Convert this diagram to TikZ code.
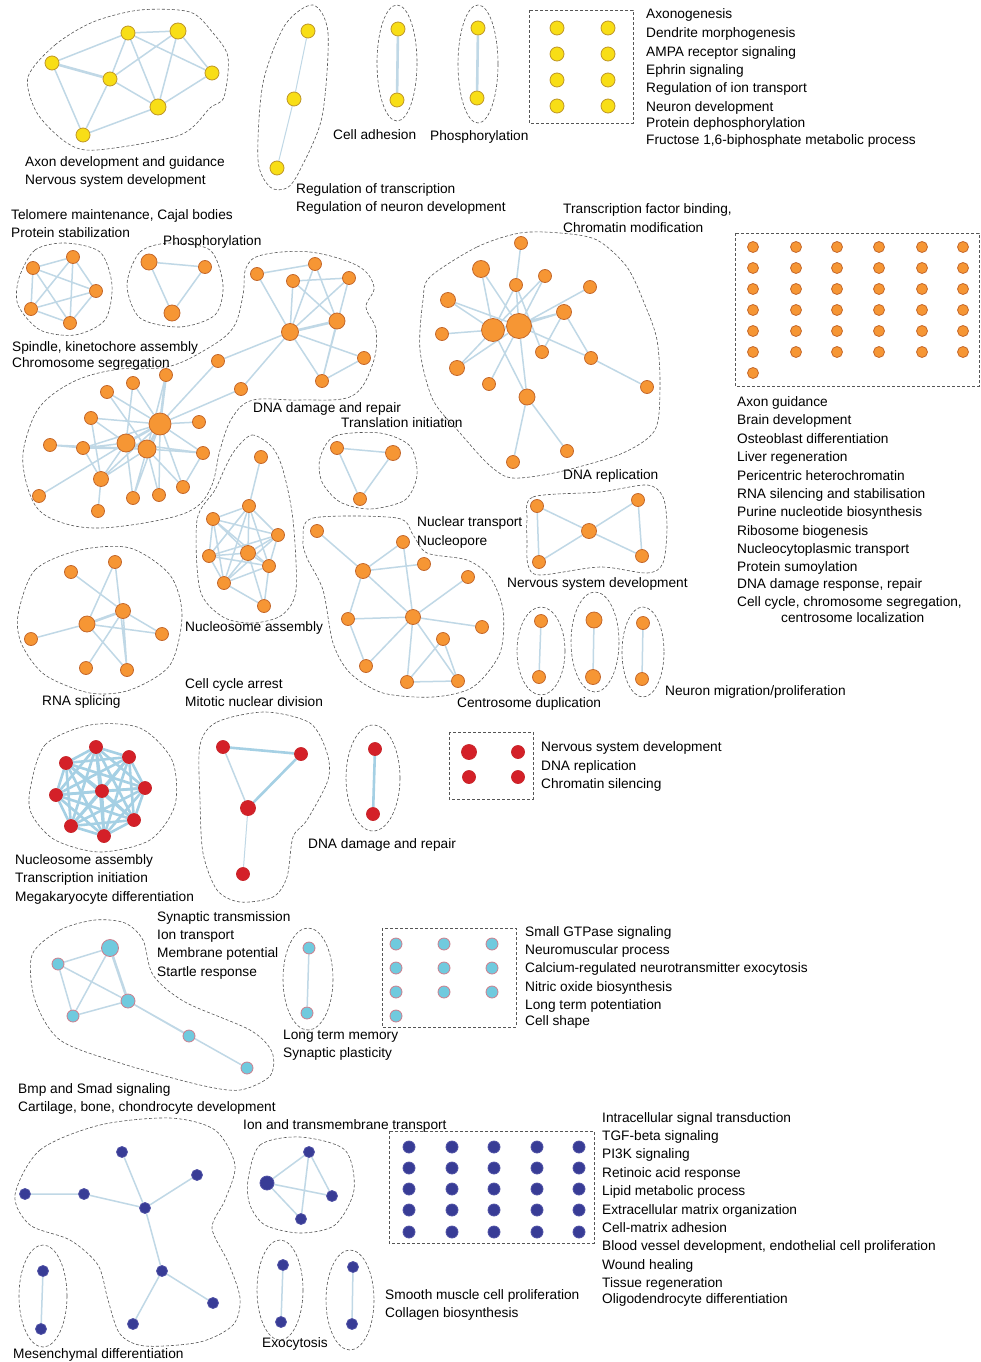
\documentclass[tikz,border=0pt]{standalone}
\usepackage{fontspec}
\setmainfont{Liberation Sans}
\usetikzlibrary{backgrounds}
\definecolor{yfill}{RGB}{248,222,22}
\definecolor{ydraw}{RGB}{190,150,40}
\definecolor{ofill}{RGB}{246,150,52}
\definecolor{odraw}{RGB}{196,104,44}
\definecolor{rfill}{RGB}{212,32,40}
\definecolor{rdraw}{RGB}{200,40,45}
\definecolor{cfill}{RGB}{112,202,222}
\definecolor{cdraw}{RGB}{205,125,140}
\definecolor{bfill}{RGB}{56,60,150}
\definecolor{bdraw}{RGB}{80,82,165}
\definecolor{edgec}{RGB}{192,216,230}
\definecolor{edgeR}{RGB}{165,208,228}
\definecolor{hullc}{RGB}{85,85,85}
\tikzset{
  nd/.style={circle, inner sep=0pt, minimum size=13pt, line width=0.8pt},
  yel/.style={nd, fill=yfill, draw=ydraw, minimum size=14pt},
  org/.style={nd, fill=ofill, draw=odraw},
  rd/.style={nd, fill=rfill, draw=rdraw},
  cy/.style={nd, fill=cfill, draw=cdraw, minimum size=12pt},
  bl/.style={nd, fill=bfill, draw=bdraw, minimum size=11pt},
  ed/.style={draw=edgec, line width=1.5pt},
  edt/.style={draw=edgec, line width=2.6pt},
  edn/.style={draw=edgec, line width=1pt},
  edr/.style={draw=edgeR, line width=2.6pt},
  hull/.style={draw=hullc, line width=0.6pt, dash pattern=on 3pt off 2pt},
  lbl/.style={anchor=base west, inner sep=0pt, yshift=-4.8pt, font=\fontsize{13.7}{16}\selectfont}
}
\newcommand{\lab}[4]{\node[lbl] (#1) at (#2,#3) {#4};}
\begin{document}
\begin{tikzpicture}[x=1pt,y=-1pt]
\useasboundingbox (0,0) rectangle (981,1362);
\begin{scope}[on background layer]
\fill[white] (0,0) rectangle (981,1362);
\end{scope}

% ================= YELLOW =================
\node[yel] (ya) at (52,63) {};
\node[yel] (yb) at (128,33) {};
\node[yel, minimum size=16pt] (yc) at (178,31) {};
\node[yel] (yd) at (212,73) {};
\node[yel] (ye) at (110,79) {};
\node[yel, minimum size=16pt] (yf) at (158,107) {};
\node[yel] (yg) at (83,135) {};
\node[yel] (y2a) at (308,31) {};
\node[yel] (y2b) at (294,99) {};
\node[yel] (y2c) at (277,168) {};
\node[yel] (y3a) at (398,29) {};
\node[yel] (y3b) at (397,100) {};
\node[yel] (y4a) at (478,28) {};
\node[yel] (y4b) at (477,98) {};
\foreach \i/\yy in {1/28,2/54,3/80,4/106}{
  \node[yel] (yb\i a) at (557,\yy) {};
  \node[yel] (yb\i b) at (608,\yy) {};
}
\begin{scope}[on background layer]
\draw[ed] (ya)--(yb) (ya)--(yg) (yb)--(yc) (yb)--(ye) (yb)--(yf) (yb)--(yd)
  (yc)--(ye) (yc)--(yf) (yc)--(yd) (ye)--(yf) (ye)--(yg) (yf)--(yd) (yf)--(yg);
\draw[edt] (ya)--(ye);
\draw[edn] (y2a)--(y2b) (y2b)--(y2c);
\draw[edt] (y3a)--(y3b) (y4a)--(y4b);
\draw[hull] plot[smooth cycle] coordinates {(28,77) (55,45) (93,22) (140,10) (190,12) (213,33) (228,57) (224,97) (210,108) (180,135) (97,150) (67,143) (37,113)};
\draw[hull] plot[smooth cycle] coordinates {(313,5) (328,33) (322,117) (300,170) (287,188) (270,187) (258,160) (263,83) (285,25)};
\draw[hull] (397,63) ellipse [x radius=20, y radius=58];
\draw[hull] (478,64) ellipse [x radius=20, y radius=59];
\draw[hull] (529,10) rectangle (633,123);
\end{scope}
\lab{t1}{25}{162}{Axon development and guidance}
\lab{t2}{25}{180}{Nervous system development}
\lab{t3}{296}{189}{Regulation of transcription}
\lab{t4}{296}{207}{Regulation of neuron development}
\lab{t5}{333}{135}{Cell adhesion}
\lab{t6}{430}{136}{Phosphorylation}
\lab{t7}{646}{14}{Axonogenesis}
\lab{t8}{646}{33}{Dendrite morphogenesis}
\lab{t9}{646}{52}{AMPA receptor signaling}
\lab{t10}{646}{70}{Ephrin signaling}
\lab{t11}{646}{88}{Regulation of ion transport}
\lab{t12}{646}{107}{Neuron development}
\lab{t13}{646}{123}{Protein dephosphorylation}
\lab{t14}{646}{140}{Fructose 1,6-biphosphate metabolic process}

% ================= ORANGE =================
\node[org] (ta) at (33,268) {};
\node[org] (tb) at (73,257) {};
\node[org] (tc) at (96,291) {};
\node[org] (td) at (31,309) {};
\node[org] (te) at (70,323) {};
\node[org, minimum size=16pt] (pa) at (149,262) {};
\node[org] (pb) at (205,267) {};
\node[org, minimum size=16pt] (pc) at (172,313) {};
\node[org] (da) at (257,274) {};
\node[org] (db) at (315,264) {};
\node[org] (dc) at (293,281) {};
\node[org] (dd) at (349,278) {};
\node[org, minimum size=16pt] (de) at (337,321) {};
\node[org, minimum size=17pt] (df) at (290,332) {};
\node[org] (dg) at (364,358) {};
\node[org] (dh) at (322,381) {};
\node[org] (s1) at (218,361) {};
\node[org] (s2) at (241,389) {};
\node[org] (s3) at (166,375) {};
\node[org] (s4) at (133,383) {};
\node[org] (s5) at (107,392) {};
\node[org, minimum size=22pt] (s6) at (160,424) {};
\node[org] (s7) at (91,418) {};
\node[org] (s8) at (199,422) {};
\node[org] (s9) at (50,445) {};
\node[org] (s10) at (83,448) {};
\node[org, minimum size=18pt] (s11) at (126,443) {};
\node[org, minimum size=18pt] (s12) at (147,449) {};
\node[org] (s13) at (203,453) {};
\node[org, minimum size=15pt] (s14) at (101,479) {};
\node[org] (s15) at (183,487) {};
\node[org] (s16) at (39,496) {};
\node[org] (s17) at (133,498) {};
\node[org] (s18) at (159,495) {};
\node[org] (s19) at (98,511) {};
\node[org] (f1) at (521,243) {};
\node[org, minimum size=17pt] (f2) at (481,269) {};
\node[org] (f3) at (545,276) {};
\node[org] (f4) at (516,285) {};
\node[org] (f5) at (590,287) {};
\node[org, minimum size=15pt] (f6) at (448,300) {};
\node[org, minimum size=15pt] (f7) at (564,312) {};
\node[org] (f8) at (442,334) {};
\node[org, minimum size=23pt] (f9) at (493,330) {};
\node[org, minimum size=25pt] (f10) at (519,326) {};
\node[org] (f11) at (542,352) {};
\node[org] (f12) at (591,358) {};
\node[org, minimum size=15pt] (f13) at (457,368) {};
\node[org] (f14) at (489,384) {};
\node[org, minimum size=16pt] (f15) at (527,397) {};
\node[org] (f16) at (647,387) {};
\node[org] (f17) at (567,451) {};
\node[org] (f18) at (513,462) {};
\foreach \c/\xx in {1/753,2/796,3/837,4/879,5/922,6/963}{
  \foreach \r/\yy in {1/247,2/268,3/289,4/310,5/331,6/352}{
    \node[org, minimum size=11pt] (og\r-\c) at (\xx,\yy) {};
  }
}
\node[org, minimum size=11pt] (og7-1) at (753,373) {};
\node[org] (n1) at (261,457) {};
\node[org] (n2) at (249,506) {};
\node[org] (n3) at (213,519) {};
\node[org] (n4) at (278,535) {};
\node[org] (n5) at (209,556) {};
\node[org, minimum size=15pt] (n6) at (248,553) {};
\node[org] (n7) at (269,566) {};
\node[org] (n8) at (224,583) {};
\node[org] (n9) at (264,606) {};
\node[org] (ti1) at (337,448) {};
\node[org, minimum size=15pt] (ti2) at (393,453) {};
\node[org] (ti3) at (360,499) {};
\node[org] (dr1) at (537,506) {};
\node[org] (dr2) at (638,500) {};
\node[org, minimum size=15pt] (dr3) at (589,531) {};
\node[org] (dr4) at (539,562) {};
\node[org] (dr5) at (642,556) {};
\node[org] (nt1) at (317,531) {};
\node[org] (nt2) at (403,542) {};
\node[org, minimum size=15pt] (nt3) at (363,571) {};
\node[org] (nt4) at (424,564) {};
\node[org] (nt5) at (468,577) {};
\node[org] (nt6) at (348,619) {};
\node[org, minimum size=15pt] (nt7) at (413,617) {};
\node[org] (nt8) at (482,627) {};
\node[org] (nt9) at (443,639) {};
\node[org] (nt10) at (366,666) {};
\node[org] (nt11) at (407,682) {};
\node[org] (nt12) at (458,681) {};
\node[org] (c1a) at (541,621) {};
\node[org] (c1b) at (539,677) {};
\node[org, minimum size=16pt] (c2a) at (594,620) {};
\node[org, minimum size=15pt] (c2b) at (593,677) {};
\node[org] (c3a) at (643,623) {};
\node[org] (c3b) at (642,679) {};
\node[org] (r1) at (115,562) {};
\node[org] (r2) at (71,572) {};
\node[org, minimum size=15pt] (r3) at (123,611) {};
\node[org, minimum size=16pt] (r4) at (87,624) {};
\node[org] (r5) at (31,639) {};
\node[org] (r6) at (162,634) {};
\node[org] (r7) at (86,668) {};
\node[org] (r8) at (127,670) {};

\begin{scope}[on background layer]
\draw[ed] (ta)--(tb) (ta)--(td) (ta)--(te) (ta)--(tc) (tb)--(td) (tb)--(te) (tb)--(tc) (td)--(tc) (td)--(te) (tc)--(te);
\draw[ed] (pa)--(pb) (pa)--(pc) (pb)--(pc);
\draw[ed] (da)--(db) (da)--(df) (db)--(df) (db)--(de) (dc)--(dd) (dc)--(de) (dc)--(df) (dd)--(df) (dd)--(dh)
  (de)--(dh) (df)--(dg) (df)--(dh) (dg)--(dh) (df)--(s1) (df)--(s2);
\draw[edt] (de)--(df);
\draw[ed] (s6)--(s4) (s6)--(s5) (s6)--(s8) (s6)--(s1) (s6)--(s2) (s6)--(s7) (s6)--(s10) (s6)--(s13)
  (s6)--(s15) (s6)--(s17) (s6)--(s18) (s6)--(s14) (s11)--(s4) (s11)--(s7) (s11)--(s10) (s11)--(s13)
  (s11)--(s14) (s11)--(s16) (s9)--(s10) (s9)--(s12) (s12)--(s5) (s12)--(s10) (s12)--(s13) (s12)--(s14)
  (s12)--(s15) (s12)--(s17) (s12)--(s18) (s12)--(s3) (s14)--(s10) (s14)--(s19) (s13)--(s15) (s11)--(s17) (s7)--(s14);
\draw[edt] (s6)--(s3) (s6)--(s11) (s6)--(s12) (s11)--(s12);
\draw[ed] (f1)--(f4) (f2)--(f9) (f2)--(f10) (f6)--(f9) (f6)--(f10) (f8)--(f9) (f3)--(f9) (f3)--(f10)
  (f4)--(f9) (f4)--(f10) (f4)--(f11) (f5)--(f10) (f7)--(f9) (f7)--(f10) (f7)--(f12) (f7)--(f11)
  (f10)--(f12) (f12)--(f16) (f10)--(f13) (f9)--(f13) (f10)--(f14) (f9)--(f15) (f10)--(f15)
  (f15)--(f17) (f15)--(f18);
\draw[edt] (f9)--(f10);
\draw[ed] (n1)--(n2);
\foreach \a/\b in {n2/n3,n2/n4,n2/n5,n2/n6,n2/n7,n2/n8,n3/n4,n3/n5,n3/n6,n3/n7,n3/n8,n4/n5,n4/n6,n4/n7,n4/n8,n5/n6,n5/n7,n5/n8,n6/n7,n6/n8,n6/n9,n7/n8,n7/n9,n8/n9}{\draw[ed] (\a)--(\b);}
\draw[ed] (ti1)--(ti2) (ti1)--(ti3) (ti2)--(ti3);
\draw[ed] (dr1)--(dr3) (dr1)--(dr4) (dr3)--(dr2) (dr3)--(dr4) (dr3)--(dr5) (dr2)--(dr5);
\draw[ed] (nt1)--(nt3) (nt2)--(nt3) (nt3)--(nt4) (nt3)--(nt6) (nt3)--(nt7) (nt2)--(nt7) (nt5)--(nt7)
  (nt7)--(nt8) (nt6)--(nt7) (nt6)--(nt10) (nt7)--(nt10) (nt7)--(nt11) (nt7)--(nt12) (nt9)--(nt11)
  (nt9)--(nt12) (nt11)--(nt12);
\draw[ed] (c1a)--(c1b) (c2a)--(c2b) (c3a)--(c3b);
\draw[ed] (r1)--(r4) (r1)--(r8) (r2)--(r3) (r4)--(r5) (r4)--(r6) (r3)--(r6) (r3)--(r8) (r4)--(r8) (r3)--(r7);
\draw[edt] (r3)--(r4);
\draw[hull] plot[smooth cycle] coordinates {(19,278) (35,250) (65,243) (100,252) (112,285) (105,320) (75,335) (40,330) (18,305)};
\draw[hull] plot[smooth cycle] coordinates {(127,285) (140,252) (170,243) (210,250) (223,285) (215,315) (180,327) (140,318)};
\draw[hull] plot[smooth cycle, tension=0.6] coordinates {(23,465) (28,432) (43,403) (77,380) (120,369) (167,367) (205,350) (233,328) (243,295) (246,268) (262,255) (310,252) (358,266) (374,287) (366,307) (376,330) (373,363) (352,396) (300,400) (253,400) (232,418) (220,450) (212,485) (195,508) (160,520) (100,528) (60,522) (35,505)};
\draw[hull] plot[smooth cycle] coordinates {(430,277) (477,247) (520,233) (560,233) (597,240) (627,267) (645,305) (657,340) (660,387) (655,430) (623,453) (567,470) (530,477) (507,477) (487,463) (460,433) (433,400) (420,350) (423,300)};
\draw[hull] (735,233) rectangle (979,386);
\draw[hull] plot[smooth cycle] coordinates {(235,450) (252,435) (272,447) (283,470) (293,520) (296,590) (282,615) (253,623) (223,617) (200,590) (197,520) (215,490) (225,468)};
\draw[hull] plot[smooth cycle] coordinates {(320,458) (335,436) (380,433) (410,446) (417,475) (405,500) (370,509) (340,502) (322,482)};
\draw[hull] plot[smooth cycle] coordinates {(527,520) (533,497) (600,492) (647,485) (663,497) (667,527) (663,563) (647,573) (600,567) (540,575) (528,565) (527,540)};
\draw[hull] plot[smooth cycle] coordinates {(303,540) (313,518) (397,518) (413,535) (427,553) (467,560) (490,577) (503,610) (500,653) (473,687) (433,697) (383,693) (350,673) (333,643) (323,590) (307,558)};
\draw[hull] (541,651) ellipse [x radius=24, y radius=44];
\draw[hull] (595,642) ellipse [x radius=24, y radius=50];
\draw[hull] (643,652) ellipse [x radius=21, y radius=45];
\draw[hull] plot[smooth cycle] coordinates {(18,615) (35,570) (80,550) (130,548) (170,575) (182,615) (170,665) (130,690) (90,693) (45,675) (22,645)};
\end{scope}
\lab{o1}{11}{215}{Telomere maintenance, Cajal bodies}
\lab{o2}{11}{233}{Protein stabilization}
\lab{o3}{163}{241}{Phosphorylation}
\lab{o4}{12}{347}{Spindle, kinetochore assembly}
\lab{o5}{12}{363}{Chromosome segregation}
\lab{o6}{253}{408}{DNA damage and repair}
\lab{o7}{341}{423}{Translation initiation}
\lab{o8}{563}{209}{Transcription factor binding,}
\lab{o9}{563}{228}{Chromatin modification}
\lab{o10}{563}{475}{DNA replication}
\lab{o11}{417}{522}{Nuclear transport}
\lab{o12}{417}{541}{Nucleopore}
\lab{o13}{507}{583}{Nervous system development}
\lab{o14}{185}{627}{Nucleosome assembly}
\lab{o15}{185}{684}{Cell cycle arrest}
\lab{o16}{185}{702}{Mitotic nuclear division}
\lab{o17}{42}{701}{RNA splicing}
\lab{o18}{457}{703}{Centrosome duplication}
\lab{o19}{665}{691}{Neuron migration/proliferation}
\lab{g1}{737}{402}{Axon guidance}
\lab{g2}{737}{420}{Brain development}
\lab{g3}{737}{439}{Osteoblast differentiation}
\lab{g4}{737}{457}{Liver regeneration}
\lab{g5}{737}{476}{Pericentric heterochromatin}
\lab{g6}{737}{494}{RNA silencing and stabilisation}
\lab{g7}{737}{512}{Purine nucleotide biosynthesis}
\lab{g8}{737}{531}{Ribosome biogenesis}
\lab{g9}{737}{549}{Nucleocytoplasmic transport}
\lab{g10}{737}{567}{Protein sumoylation}
\lab{g11}{737}{584}{DNA damage response, repair}
\lab{g12}{737}{602}{Cell cycle, chromosome segregation,}
\lab{g13}{781}{618}{centrosome localization}

% ================= RED =================
\node[rd] (R1) at (96,747) {};
\node[rd] (R2) at (66,763) {};
\node[rd] (R3) at (129,757) {};
\node[rd] (R4) at (56,795) {};
\node[rd] (R5) at (102,791) {};
\node[rd] (R6) at (145,788) {};
\node[rd] (R7) at (71,826) {};
\node[rd] (R8) at (134,820) {};
\node[rd] (R9) at (104,836) {};
\node[rd] (Q1) at (223,747) {};
\node[rd] (Q2) at (301,754) {};
\node[rd, minimum size=15pt] (Q3) at (248,808) {};
\node[rd] (Q4) at (243,874) {};
\node[rd] (Q5) at (375,749) {};
\node[rd] (Q6) at (373,814) {};
\node[rd, minimum size=15pt] (RB1) at (469,752) {};
\node[rd] (RB2) at (518,752) {};
\node[rd] (RB3) at (469,777) {};
\node[rd] (RB4) at (518,777) {};
\begin{scope}[on background layer]
\foreach \i in {1,...,9}{\foreach \j in {1,...,9}{\ifnum\i<\j \draw[edr] (R\i)--(R\j); \fi}}
\draw[edr] (Q1)--(Q2) (Q2)--(Q3) (Q5)--(Q6);
\draw[ed] (Q1)--(Q3);
\draw[edn] (Q3)--(Q4);
\draw[hull] plot[smooth cycle] coordinates {(30,790) (45,745) (90,725) (140,728) (172,760) (175,805) (150,840) (100,852) (55,840) (32,815)};
\draw[hull] plot[smooth cycle] coordinates {(200,745) (217,722) (265,712) (310,723) (327,753) (328,780) (307,820) (293,837) (287,877) (273,897) (240,902) (217,890) (203,853) (200,800)};
\draw[hull] (373,778) ellipse [x radius=27, y radius=53];
\draw[hull] (449,732) rectangle (533,799);
\end{scope}
\lab{rl1}{15}{860}{Nucleosome assembly}
\lab{rl2}{15}{878}{Transcription initiation}
\lab{rl3}{15}{897}{Megakaryocyte differentiation}
\lab{rl4}{308}{844}{DNA damage and repair}
\lab{rl5}{541}{747}{Nervous system development}
\lab{rl6}{541}{766}{DNA replication}
\lab{rl7}{541}{784}{Chromatin silencing}

% ================= CYAN =================
\node[cy, minimum size=17pt] (ca) at (110,948) {};
\node[cy] (cb) at (58,964) {};
\node[cy, minimum size=14pt] (cc) at (128,1001) {};
\node[cy] (cd) at (73,1016) {};
\node[cy] (ce) at (189,1036) {};
\node[cy] (cf) at (247,1068) {};
\node[cy] (cg) at (309,948) {};
\node[cy] (ch) at (307,1013) {};
\foreach \c/\xx in {1/396,2/444,3/492}{
  \foreach \r/\yy in {1/944,2/968,3/992}{
    \node[cy] (cx\r-\c) at (\xx,\yy) {};
  }
}
\node[cy] (cx4-1) at (396,1016) {};
\begin{scope}[on background layer]
\draw[ed] (ca)--(cb) (ca)--(cd) (cb)--(cc) (cb)--(cd) (cc)--(cd) (cc)--(ce) (cc)--(cf) (cg)--(ch);
\draw[edt] (ca)--(cc);
\draw[hull] plot[smooth cycle] coordinates {(32,955) (60,930) (95,920) (125,923) (143,940) (153,975) (185,1002) (250,1030) (272,1052) (270,1076) (240,1090) (200,1085) (120,1063) (60,1040) (35,1000)};
\draw[hull] (308,979) ellipse [x radius=25, y radius=51];
\draw[hull] (382,928) rectangle (516,1027);
\end{scope}
\lab{cl1}{157}{917}{Synaptic transmission}
\lab{cl2}{157}{935}{Ion transport}
\lab{cl3}{157}{953}{Membrane potential}
\lab{cl4}{157}{972}{Startle response}
\lab{cl5}{18}{1089}{Bmp and Smad signaling}
\lab{cl6}{18}{1107}{Cartilage, bone, chondrocyte development}
\lab{cl7}{283}{1035}{Long term memory}
\lab{cl8}{283}{1053}{Synaptic plasticity}
\lab{cl9}{525}{932}{Small GTPase signaling}
\lab{cl10}{525}{950}{Neuromuscular process}
\lab{cl11}{525}{968}{Calcium-regulated neurotransmitter exocytosis}
\lab{cl12}{525}{987}{Nitric oxide biosynthesis}
\lab{cl13}{525}{1005}{Long term potentiation}
\lab{cl14}{525}{1021}{Cell shape}

% ================= BLUE =================
\node[bl] (ba) at (122,1152) {};
\node[bl] (bb) at (197,1175) {};
\node[bl] (bc) at (25,1194) {};
\node[bl] (bd) at (84,1194) {};
\node[bl] (be) at (145,1208) {};
\node[bl] (bf) at (162,1271) {};
\node[bl] (bg) at (213,1303) {};
\node[bl] (bh) at (133,1324) {};
\node[bl] (bi) at (309,1152) {};
\node[bl, minimum size=14pt] (bj) at (267,1183) {};
\node[bl] (bk) at (332,1196) {};
\node[bl] (bm) at (301,1219) {};
\node[bl] (bn) at (43,1271) {};
\node[bl] (bo) at (41,1329) {};
\node[bl] (bp) at (283,1265) {};
\node[bl] (bq) at (281,1322) {};
\node[bl] (br) at (353,1267) {};
\node[bl] (bs) at (352,1324) {};
\foreach \c/\xx in {1/409,2/452,3/494,4/537,5/579}{
  \foreach \r/\yy in {1/1147,2/1168,3/1189,4/1210,5/1232}{
    \node[bl, minimum size=12pt] (bx\r-\c) at (\xx,\yy) {};
  }
}
\begin{scope}[on background layer]
\draw[ed] (ba)--(be) (bb)--(be) (bc)--(bd) (bd)--(be) (be)--(bf) (bf)--(bg) (bf)--(bh);
\draw[ed] (bi)--(bj) (bi)--(bm) (bj)--(bk) (bj)--(bm) (bi)--(bk);
\draw[ed] (bn)--(bo) (bp)--(bq) (br)--(bs);
\draw[hull] plot[smooth cycle] coordinates {(15,1195) (40,1150) (100,1125) (170,1118) (215,1130) (235,1165) (225,1200) (212,1228) (228,1262) (240,1298) (233,1325) (200,1342) (145,1346) (120,1334) (108,1300) (98,1265) (70,1240) (30,1225)};
\draw[hull] plot[smooth cycle] coordinates {(248,1180) (260,1145) (300,1137) (345,1150) (354,1190) (335,1225) (300,1233) (265,1225) (250,1205)};
\draw[hull] (43,1296) ellipse [x radius=24, y radius=51];
\draw[hull] (280,1290) ellipse [x radius=23, y radius=50];
\draw[hull] (350,1300) ellipse [x radius=24, y radius=50];
\draw[hull] (389,1131) rectangle (594,1243);
\end{scope}
\lab{bl1}{243}{1125}{Ion and transmembrane transport}
\lab{bl2}{13}{1354}{Mesenchymal differentiation}
\lab{bl3}{262}{1343}{Exocytosis}
\lab{bl4}{385}{1295}{Smooth muscle cell proliferation}
\lab{bl5}{385}{1313}{Collagen biosynthesis}
\lab{bl6}{602}{1118}{Intracellular signal transduction}
\lab{bl7}{602}{1136}{TGF-beta signaling}
\lab{bl8}{602}{1154}{PI3K signaling}
\lab{bl9}{602}{1173}{Retinoic acid response}
\lab{bl10}{602}{1191}{Lipid metabolic process}
\lab{bl11}{602}{1210}{Extracellular matrix organization}
\lab{bl12}{602}{1228}{Cell-matrix adhesion}
\lab{bl13}{602}{1246}{Blood vessel development, endothelial cell proliferation}
\lab{bl14}{602}{1265}{Wound healing}
\lab{bl15}{602}{1283}{Tissue regeneration}
\lab{bl16}{602}{1299}{Oligodendrocyte differentiation}
\end{tikzpicture}
\end{document}
